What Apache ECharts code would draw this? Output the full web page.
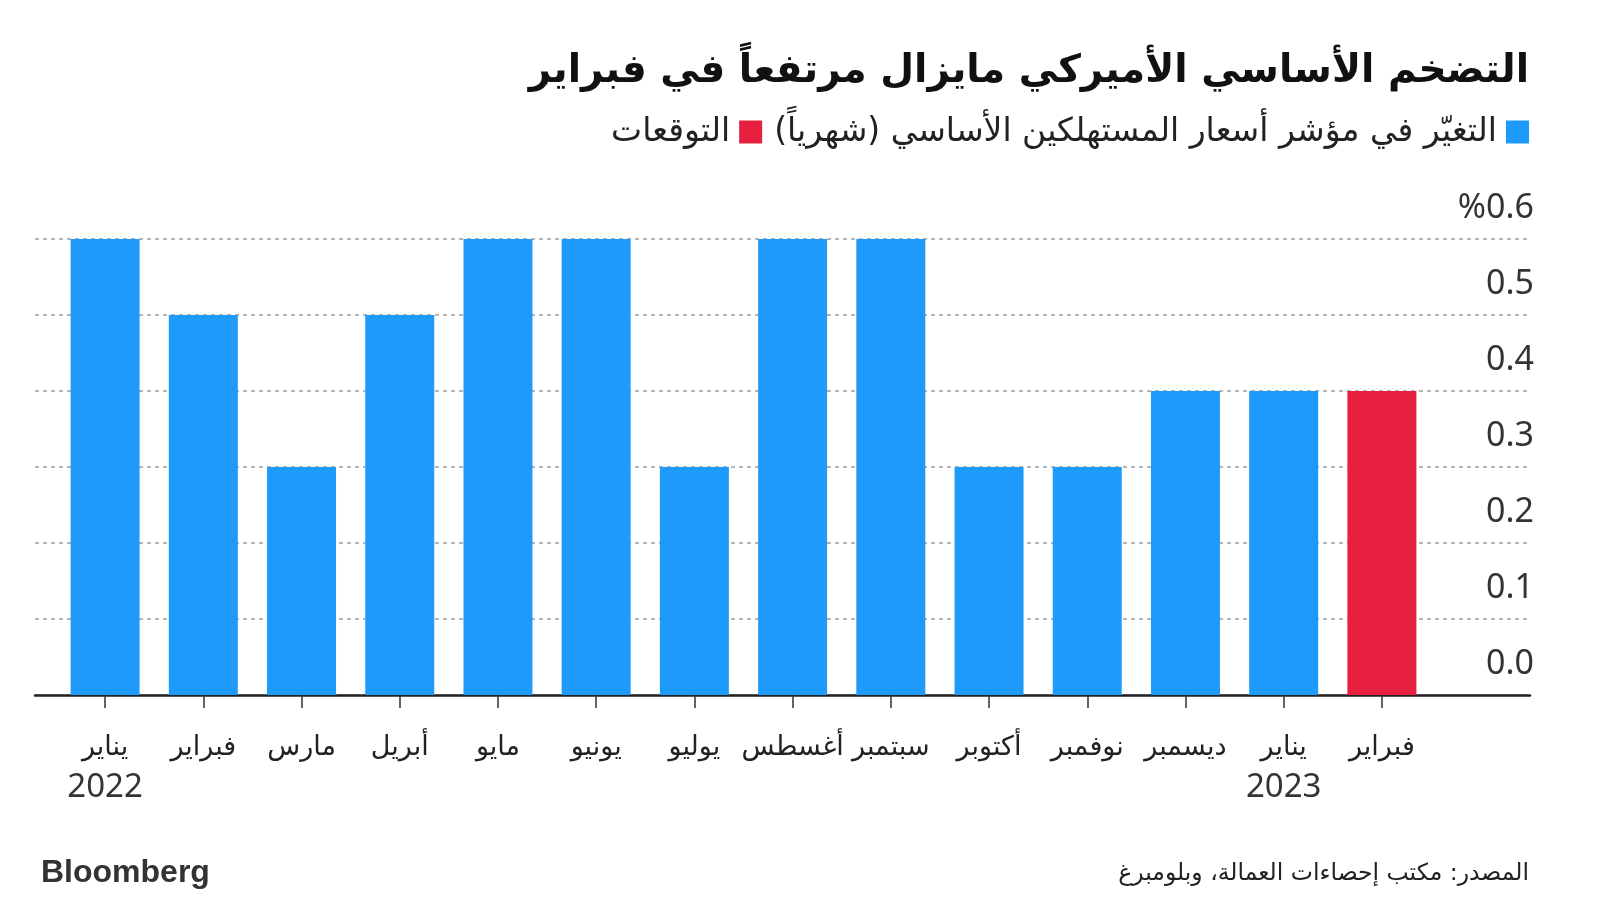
<!DOCTYPE html>
<html>
<head>
<meta charset="utf-8">
<script src="https://cdn.jsdelivr.net/npm/echarts@6/dist/echarts.min.js"></script>
<style>
  html, body { margin: 0; padding: 0; background: #fff; }
  #main { width: 1600px; height: 900px; }
</style>
</head>
<body>
<div id="main" dir="rtl"></div>
<script>
// الأشهر والقيم
var months = ['يناير', 'فبراير', 'مارس', 'أبريل', 'مايو', 'يونيو', 'يوليو', 'أغسطس', 'سبتمبر', 'أكتوبر', 'نوفمبر', 'ديسمبر', 'يناير', 'فبراير']
var years = ['2022', '', '', '', '', '', '', '', '', '', '', '', '2023', '']
var coreCpi = [0.6, 0.5, 0.3, 0.5, 0.6, 0.6, 0.3, 0.6, 0.6, 0.3, 0.3, 0.4, 0.4, '-']
var forecast = ['-', '-', '-', '-', '-', '-', '-', '-', '-', '-', '-', '-', '-', 0.4]
var yTicks = [0, 0.1, 0.2, 0.3, 0.4, 0.5, 0.6]

var nameActual = 'التغيّر في مؤشر أسعار المستهلكين الأساسي (شهرياً)'
var nameForecast = 'التوقعات'

var chart = echarts.init(document.getElementById('main'))

chart.setOption({
  backgroundColor: '#fff',
  animation: false,
  title: [
    {
      text: 'التضخم الأساسي الأميركي مايزال مرتفعاً في فبراير',
      right: 66,
      top: 39,
      textStyle: { fontSize: 39, fontWeight: 'bold', color: '#111', lineHeight: 56, fontFamily: 'DejaVu Sans' }
    },
    {
      text: 'Bloomberg',
      left: 36,
      top: 848,
      textStyle: { fontSize: 32, fontWeight: 'bold', color: '#333', lineHeight: 40, fontFamily: 'Liberation Sans' }
    },
    {
      text: 'المصدر: مكتب إحصاءات العمالة، وبلومبرغ',
      right: 66,
      top: 851,
      textStyle: { fontSize: 23.5, fontWeight: 'normal', color: '#222', lineHeight: 36, fontFamily: 'DejaVu Sans' }
    }
  ],
  legend: {
    data: [nameForecast, nameActual],
    right: 66,
    top: 107,
    align: 'right',
    icon: 'rect',
    itemWidth: 23,
    itemHeight: 23,
    itemGap: 12,
    selectedMode: false,
    textStyle: { fontSize: 33, color: '#222', lineHeight: 40, fontFamily: 'DejaVu Sans', padding: [0, 4, 0, 0] }
  },
  grid: [
    { left: 35, right: 70, top: 239, bottom: 205 },
    { left: 56, right: 169, top: 239, bottom: 205 }
  ],
  xAxis: [
    {
      type: 'value', gridIndex: 0, min: 0, max: 1,
      axisLine: { show: true, lineStyle: { color: '#222', width: 2.5 } },
      axisTick: { show: false },
      axisLabel: { show: false },
      splitLine: { show: false }
    },
    {
      type: 'category', gridIndex: 1, data: months,
      axisLine: { show: false },
      axisTick: { show: true, alignWithLabel: true, length: 13, lineStyle: { color: '#333', width: 1.5 } },
      axisLabel: {
        interval: 0,
        margin: 33,
        formatter: function (v, i) {
          return years[i] ? '{m|' + v + '}\n{y|' + years[i] + '}' : '{m|' + v + '}'
        },
        rich: {
          m: { fontSize: 27, lineHeight: 40, color: '#222', fontFamily: 'DejaVu Sans' },
          y: { fontSize: 33, lineHeight: 40, color: '#333', fontFamily: 'Noto Sans' }
        }
      }
    }
  ],
  yAxis: [
    {
      type: 'value', gridIndex: 0, position: 'right',
      min: yTicks[0], max: yTicks[yTicks.length - 1], interval: 0.1,
      axisLine: { show: false },
      axisTick: { show: false },
      splitLine: { show: true, lineStyle: { color: '#b5b5b5', width: 2, type: [4, 4] } },
      axisLabel: {
        inside: true,
        margin: -4,
        fontSize: 34,
        color: '#333',
        fontFamily: 'Noto Sans',
        verticalAlign: 'bottom',
        lineHeight: 40,
        padding: [0, 0, 11, 0],
        formatter: function (v) {
          var s = v.toFixed(1)
          return v >= 0.6 ? '%' + s : s
        }
      }
    },
    {
      type: 'value', gridIndex: 1, show: false,
      min: yTicks[0], max: yTicks[yTicks.length - 1]
    }
  ],
  series: [
    {
      name: nameActual,
      type: 'bar',
      xAxisIndex: 1,
      yAxisIndex: 1,
      stack: 'v',
      barWidth: 69,
      itemStyle: { color: '#1e9bfa' },
      data: coreCpi
    },
    {
      name: nameForecast,
      type: 'bar',
      xAxisIndex: 1,
      yAxisIndex: 1,
      stack: 'v',
      barWidth: 69,
      itemStyle: { color: '#e8203f' },
      data: forecast
    }
  ]
})
</script>
</body>
</html>
